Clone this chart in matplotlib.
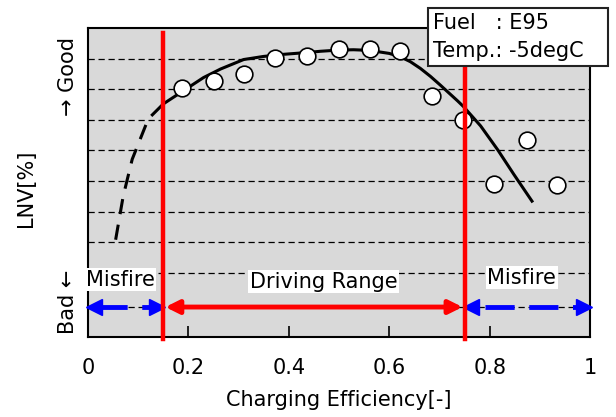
import numpy as np
import matplotlib
matplotlib.use('Agg')
import matplotlib.pyplot as plt

plt.rcParams['font.family'] = ['DejaVu Sans']

# measured points (charging efficiency, LNV level)
eff = [0.188, 0.250, 0.310, 0.373, 0.436, 0.499, 0.561, 0.621, 0.686, 0.746, 0.808, 0.874, 0.934]
lnv = [8.05, 8.28, 8.51, 9.03, 9.10, 9.33, 9.33, 9.26, 7.78, 6.99, 4.89, 6.34, 4.86]

# trend curve
fit_x = [0.150, 0.190, 0.230, 0.264, 0.310, 0.349, 0.389, 0.437, 0.463, 0.500, 0.529, 0.560,
         0.600, 0.622, 0.642, 0.662, 0.682, 0.702, 0.736, 0.748, 0.782, 0.816, 0.848, 0.886]
fit_y = [7.52, 7.95, 8.38, 8.66, 8.97, 9.07, 9.14, 9.20, 9.24, 9.28, 9.29, 9.27,
         9.17, 9.06, 8.90, 8.68, 8.42, 8.13, 7.62, 7.43, 6.80, 6.02, 5.22, 4.30]
ext_x = [0.055, 0.070, 0.088, 0.120, 0.150]
ext_y = [3.08, 4.50, 5.71, 7.03, 7.52]

grid_levels = [2, 3, 4, 5, 6, 7, 8, 9]
xticks = [0, 0.2, 0.4, 0.6, 0.8, 1.0]
xticklabels = ['0', '0.2', '0.4', '0.6', '0.8', '1']
limits = [0.15, 0.75]
range_y = 0.88

fs = 15

fig = plt.figure(figsize=(6.16, 4.17), dpi=100)
ax = fig.add_axes([0.1429, 0.1918, 0.815, 0.741])
ax.set_facecolor('#d9d9d9')
ax.set_xlim(0, 1)
ax.set_ylim(-0.1, 10)

for g in grid_levels:
    ax.axhline(g, color='black', lw=0.9, dashes=(5, 3), zorder=1)

ax.plot(ext_x, ext_y, color='black', lw=2.2, dashes=(5, 3.5), zorder=3)
ax.plot(fit_x, fit_y, color='black', lw=2.2, zorder=3, solid_capstyle='butt')
ax.plot(eff, lnv, 'o', ms=12, mfc='white', mec='black', mew=1.2, zorder=4)

for lx in limits:
    ax.plot([lx, lx], [-0.15, 9.85], color='#ff0000', lw=3.2, zorder=5, clip_on=False)

# range arrows
ax.plot([0, 1], [range_y, range_y], color='black', lw=0.9, dashes=(5, 3), zorder=2)
ax.annotate('', xy=(limits[0] + 0.004, range_y), xytext=(limits[1] - 0.004, range_y),
            arrowprops=dict(arrowstyle='<|-|>', color='#ff0000', lw=3.5,
                            mutation_scale=20, shrinkA=0, shrinkB=0), zorder=6)
ax.plot([0.02, 0.128], [range_y, range_y], color='#0000ff', lw=3.5, dashes=(6, 3), zorder=3)
ax.plot([0.012], [range_y], marker='<', ms=11, color='#0000ff', zorder=4, clip_on=False)
ax.plot([0.138], [range_y], marker='>', ms=11, color='#0000ff', zorder=4)
ax.plot([0.79, 0.98], [range_y, range_y], color='#0000ff', lw=3.5, dashes=(6, 3), zorder=3)
ax.plot([0.762], [range_y], marker='<', ms=11, color='#0000ff', zorder=4)
ax.plot([0.988], [range_y], marker='>', ms=11, color='#0000ff', zorder=4, clip_on=False)

box = dict(facecolor='white', edgecolor='none', pad=1)
ax.text(0.064, 1.77, 'Misfire', fontsize=fs, ha='center', va='center', bbox=box, zorder=7)
ax.text(0.469, 1.70, 'Driving Range', fontsize=fs, ha='center', va='center', bbox=box, zorder=7)
ax.text(0.864, 1.84, 'Misfire', fontsize=fs, ha='center', va='center', bbox=box, zorder=7)

ax.set_xticks(xticks)
ax.set_xticklabels(xticklabels)
ax.set_yticks([])
ax.tick_params(axis='x', direction='in', length=8, width=1.2, labelsize=fs, pad=15)
for s in ax.spines.values():
    s.set_linewidth(1.5)
ax.set_xlabel('Charging Efficiency[-]', fontsize=fs, labelpad=9)

fig.text(26 / 616, 1 - 188 / 417, 'LNV[%]', fontsize=fs, rotation=90, ha='center', va='center')
fig.text(68 / 616, 1 - 77 / 417, '\u2192 Good', fontsize=fs, rotation=90, ha='center', va='center')
fig.text(68 / 616, 1 - 302 / 417, 'Bad \u2190', fontsize=fs, rotation=90, ha='center', va='center')

fig.text(433 / 616, 1 - 23 / 417, 'Fuel   : E95', fontsize=fs, ha='left', va='center')
fig.text(433 / 616, 1 - 51 / 417, 'Temp.: -5degC', fontsize=fs, ha='left', va='center')
fig.patches.append(plt.Rectangle((428 / 616, 1 - 66 / 417), 180 / 616, 58 / 417,
                                 transform=fig.transFigure, facecolor='white',
                                 edgecolor='#222222', lw=1.5, zorder=0.5))
for t in fig.texts:
    t.set_zorder(1)

fig.savefig('out.png', dpi=100)
